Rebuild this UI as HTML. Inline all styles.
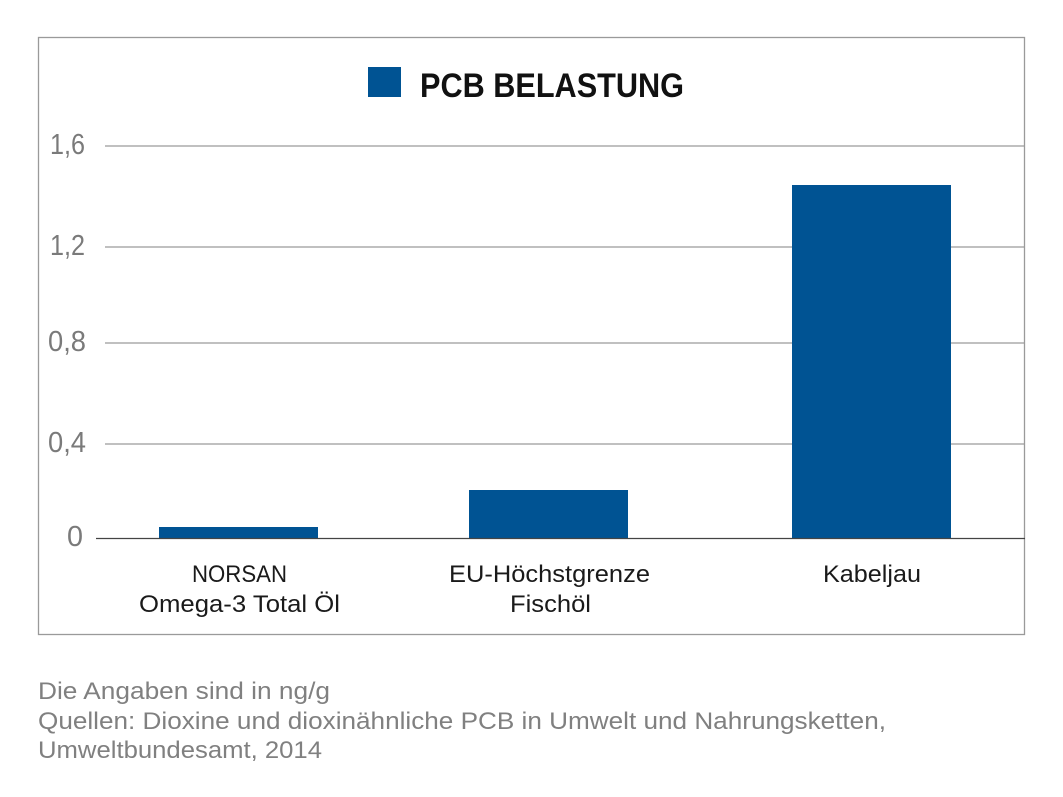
<!DOCTYPE html>
<html><head><meta charset="utf-8"><style>
html,body{margin:0;padding:0;background:#fff;}
svg{display:block;}
text{font-family:"Liberation Sans",sans-serif;}
</style></head><body>
<svg width="1063" height="797" viewBox="0 0 1063 797" xmlns="http://www.w3.org/2000/svg">
<rect x="38.5" y="37.5" width="986" height="597" fill="none" stroke="#9a9a9a" stroke-width="1.3"/>
<rect x="368" y="67" width="33" height="30" fill="#005393"/>
<text x="420" y="97" font-size="34" font-weight="bold" fill="#111" textLength="264" lengthAdjust="spacingAndGlyphs">PCB BELASTUNG</text>
<g stroke="#9a9a9a" stroke-width="1.2">
<line x1="105" y1="146" x2="1025" y2="146"/>
<line x1="105" y1="247" x2="1025" y2="247"/>
<line x1="105" y1="343" x2="1025" y2="343"/>
<line x1="105" y1="444" x2="1025" y2="444"/>
</g>
<g font-size="29" fill="#7a7a7a">
<text x="50" y="154" textLength="35" lengthAdjust="spacingAndGlyphs">1,6</text>
<text x="50" y="255" textLength="35" lengthAdjust="spacingAndGlyphs">1,2</text>
<text x="48" y="351" textLength="38" lengthAdjust="spacingAndGlyphs">0,8</text>
<text x="48" y="452" textLength="38" lengthAdjust="spacingAndGlyphs">0,4</text>
<text x="67" y="546" textLength="16" lengthAdjust="spacingAndGlyphs">0</text>
</g>
<rect x="159" y="527" width="159" height="11" fill="#005393"/>
<rect x="469" y="490" width="159" height="48" fill="#005393"/>
<rect x="792" y="185" width="159" height="353" fill="#005393"/>
<line x1="96" y1="538.5" x2="1025" y2="538.5" stroke="#444" stroke-width="1.3"/>
<g font-size="24" fill="#1a1a1a">
<text x="192" y="582" textLength="95" lengthAdjust="spacingAndGlyphs">NORSAN</text>
<text x="139" y="612" textLength="201" lengthAdjust="spacingAndGlyphs">Omega-3 Total Öl</text>
<text x="449" y="582" textLength="201" lengthAdjust="spacingAndGlyphs">EU-Höchstgrenze</text>
<text x="510" y="612" textLength="81" lengthAdjust="spacingAndGlyphs">Fischöl</text>
<text x="823" y="582" textLength="98" lengthAdjust="spacingAndGlyphs">Kabeljau</text>
</g>
<g font-size="24" fill="#808080">
<text x="38" y="699" textLength="292" lengthAdjust="spacingAndGlyphs">Die Angaben sind in ng/g</text>
<text x="38" y="729" textLength="848" lengthAdjust="spacingAndGlyphs">Quellen: Dioxine und dioxinähnliche PCB in Umwelt und Nahrungsketten,</text>
<text x="38" y="758" textLength="284" lengthAdjust="spacingAndGlyphs">Umweltbundesamt, 2014</text>
</g>
</svg>
</body></html>
